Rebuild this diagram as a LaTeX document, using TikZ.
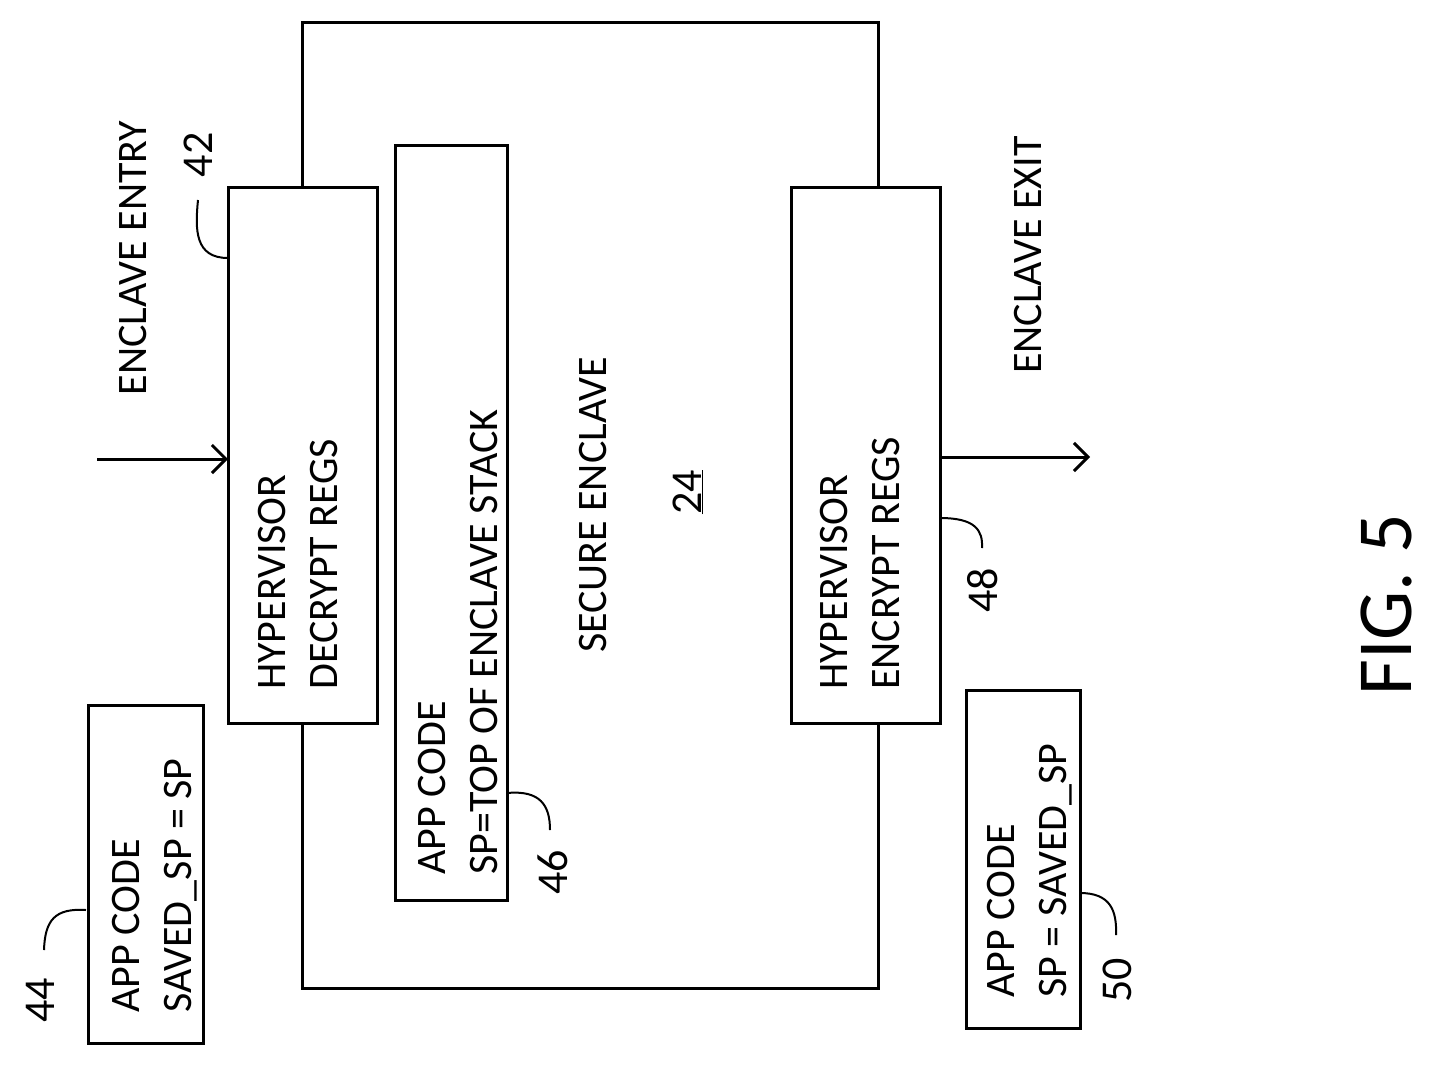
\documentclass[tikz,border=0pt]{standalone}
\usepackage{fontspec}
\setmainfont{Carlito}
\tikzset{
  box/.style={draw, line width=3pt},
  vlabel/.style={rotate=90, font=\fontsize{42}{52}\selectfont, inner sep=0pt, align=left},
  refnum/.style={rotate=90, font=\fontsize{44}{50}\selectfont, inner sep=0pt},
  leader/.style={line width=2pt},
  flow/.style={line width=3pt, -{Straight Barb[length=14pt,width=28pt,line width=3pt]}}
}
\usetikzlibrary{arrows.meta}
\begin{document}
\begin{tikzpicture}[x=1pt,y=1pt]
  \useasboundingbox (0,0) rectangle (1431,-1066);
  % enclave
  \draw[box] (302,-22) rectangle (878,-988);
  \node[vlabel, anchor=center] (enc) at (593,-505) {SECURE ENCLAVE};
  \node[refnum] (n24) at (688,-492) {\underline{24}};
  % boxes
  \draw[box, fill=white] (228,-187) rectangle (377,-723);
  \node[vlabel, anchor=west] (decrypt) at (298,-690) {HYPERVISOR\\DECRYPT REGS};
  \draw[box, fill=white] (395,-145) rectangle (507,-900);
  \node[vlabel, anchor=west] (stack) at (458,-875) {APP CODE\\SP=TOP OF ENCLAVE STACK};
  \draw[box, fill=white] (791,-187) rectangle (940,-723);
  \node[vlabel, anchor=west] (encrypt) at (860,-690) {HYPERVISOR\\ENCRYPT REGS};
  \draw[box] (88,-705) rectangle (203,-1043);
  \node[vlabel, anchor=west] (saved) at (155,-1013) {APP CODE\\SAVED\_SP = SP};
  \draw[box] (966,-690) rectangle (1080,-1028);
  \node[vlabel, anchor=west] (restore) at (1030,-998) {APP CODE\\SP = SAVED\_SP};
  % flow
  \coordinate (inS) at (97,-459);
  \coordinate (inE) at (228,-459);
  \coordinate (outS) at (940,-457);
  \coordinate (outE) at (1090,-457);
  \draw[flow] (inS) -- (inE);
  \draw[flow] (outS) -- (outE);
  \node[vlabel, anchor=center] (entry) at (133,-258) {ENCLAVE ENTRY};
  \node[vlabel, anchor=center] (exit) at (1028,-255) {ENCLAVE EXIT};
  % reference numbers
  \node[refnum] (n42) at (198,-155) {42};
  \node[refnum] (n44) at (40,-1000) {44};
  \node[refnum] (n46) at (553,-872) {46};
  \node[refnum] (n48) at (983,-590) {48};
  \node[refnum] (n50) at (1117,-980) {50};
  \draw[leader] (228,-258) .. controls (195,-258) and (195,-230) .. (198,-200);
  \draw[leader] (86,-910) .. controls (55,-908) and (45,-920) .. (44,-950);
  \draw[leader] (507,-793) .. controls (540,-790) and (550,-805) .. (550,-830);
  \draw[leader] (940,-518) .. controls (975,-518) and (983,-530) .. (982,-548);
  \draw[leader] (1080,-893) .. controls (1110,-893) and (1117,-910) .. (1116,-935);
  \node[rotate=90, font=\fontsize{78}{90}\selectfont, inner sep=0pt] (fig) at (1386,-605) {FIG. 5};
\end{tikzpicture}
\end{document}
